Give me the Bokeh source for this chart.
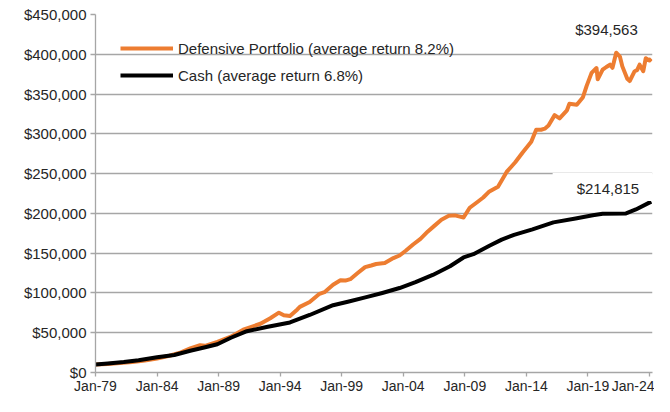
from bokeh.plotting import figure
from bokeh.models import (ColumnDataSource, FixedTicker, NumeralTickFormatter,
                          Legend, LegendItem, Label, Range1d)
from bokeh.embed import file_html
from bokeh.resources import INLINE

# ---- data ----
def_years = [1979.0, 1980.0, 1981.0, 1982.0, 1983.0, 1984.0, 1985.0, 1985.8, 1986.7, 1987.5,
             1987.9, 1988.9, 1990.0, 1991.0, 1992.4, 1993.2, 1993.9, 1994.3, 1994.8, 1995.4,
             1995.6, 1996.4, 1997.2, 1997.6, 1998.3, 1998.9, 1999.3, 1999.7, 2000.3, 2000.9,
             2001.4, 2001.8, 2002.5, 2003.2, 2003.7, 2004.2, 2004.8, 2005.4, 2006.0, 2006.5,
             2007.1, 2007.7, 2008.2, 2008.6, 2008.9, 2009.4, 2010.0, 2010.5, 2011.0, 2011.7,
             2012.4, 2013.1, 2013.7, 2014.4, 2014.8, 2015.2, 2015.5, 2015.8, 2016.3, 2016.7,
             2017.3, 2017.5, 2018.1, 2018.6, 2018.9, 2019.3, 2019.7, 2019.8, 2020.2, 2020.5,
             2020.8, 2021.0, 2021.3, 2021.6, 2021.8, 2022.2, 2022.4, 2022.8, 2023.0, 2023.2,
             2023.5, 2023.7, 2024.0, 2024.15]
def_values = [10000, 10800, 11900, 13300, 15200, 17600, 21000, 24500, 30200, 34300,
              33500, 38400, 45000, 53900, 61300, 68200, 75200, 72000, 71100, 79300,
              82500, 88600, 98900, 101000, 110300, 116000, 115500, 117300, 125000, 132400,
              134500, 136400, 137600, 143800, 147100, 153000, 160900, 168000, 177300, 184000,
              192000, 196900, 197500, 196000, 194900, 207100, 214000, 220000, 227600, 233600,
              252100, 264300, 276600, 290000, 305100, 305100, 306500, 310400, 323500, 319500,
              329600, 337900, 336600, 346000, 360300, 376600, 382700, 368500, 380600, 384000,
              386900, 383000, 402000, 397100, 384800, 369200, 366400, 378700, 380000, 386900,
              378700, 395000, 392200, 394563]

cash_years = [1979.0, 1980.0, 1981.3, 1982.5, 1984.0, 1985.4, 1986.7, 1988.0, 1988.9, 1990.0,
              1991.3, 1992.9, 1994.8, 1996.4, 1998.3, 1999.5, 2001.0, 2002.3, 2003.7, 2005.0,
              2006.4, 2007.8, 2008.9, 2009.7, 2011.0, 2012.0, 2013.0, 2014.5, 2016.2, 2018.0,
              2019.4, 2020.2, 2022.1, 2022.9, 2024.15]
cash_values = [10000, 11300, 13100, 15500, 19200, 22000, 27300, 32000, 35500, 43700,
               51900, 57200, 62900, 72300, 84600, 89000, 94700, 100000, 106200, 113500,
               122600, 133600, 144600, 148700, 159300, 167000, 173000, 180000, 188700, 193600,
               197700, 199500, 200000, 205000, 214815]

series_names = ["Defensive Portfolio (average return 8.2%)", "Cash (average return 6.8%)"]
end_values = [394563, 214815]

x_ticks = [1979, 1984, 1989, 1994, 1999, 2004, 2009, 2014, 2019, 2024]
x_tick_labels = ["Jan-79", "Jan-84", "Jan-89", "Jan-94", "Jan-99",
                 "Jan-04", "Jan-09", "Jan-14", "Jan-19", "Jan-24"]
y_ticks = [0, 50000, 100000, 150000, 200000, 250000, 300000, 350000, 400000, 450000]

ORANGE = "#ED7D31"
GRID = "#a6a6a6"
TEXT = "#262626"
FONT = "Liberation Sans"

p = figure(width=654, height=396, output_backend="svg", toolbar_location=None,
           x_range=Range1d(1979.0, 2024.25), y_range=Range1d(0, 450000),
           min_border_left=95, min_border_right=2, min_border_top=14, min_border_bottom=21)
p.outline_line_color = None
p.background_fill_color = "white"
p.border_fill_color = "white"

src_def = ColumnDataSource(dict(x=def_years, y=def_values))
src_cash = ColumnDataSource(dict(x=cash_years, y=cash_values))
r_def = p.line("x", "y", source=src_def, line_color=ORANGE, line_width=4, line_join="round")
r_cash = p.line("x", "y", source=src_cash, line_color="black", line_width=4, line_join="round")

# axes
p.xgrid.visible = False
p.ygrid.grid_line_color = GRID
p.ygrid.grid_line_width = 1.3
p.ygrid.ticker = FixedTicker(ticks=y_ticks)

p.xaxis.ticker = FixedTicker(ticks=x_ticks)
p.xaxis.major_label_overrides = {t: l for t, l in zip(x_ticks, x_tick_labels)}
p.yaxis.ticker = FixedTicker(ticks=y_ticks)
p.yaxis.formatter = NumeralTickFormatter(format="$0,0")
for ax in (p.xaxis[0], p.yaxis[0]):
    ax.axis_line_color = GRID
    ax.axis_line_width = 1.3
    ax.major_tick_line_color = GRID
    ax.major_tick_line_width = 1.3
    ax.major_tick_in = 0
    ax.minor_tick_line_color = None
    ax.major_label_text_font = FONT
    ax.major_label_text_color = TEXT
p.yaxis.major_label_text_font_size = "15px"
p.xaxis.major_label_text_font_size = "14px"
p.xaxis.major_tick_out = 4
p.xaxis.major_label_standoff = 1
p.yaxis.major_tick_out = 5
p.yaxis.major_label_standoff = 4

legend = Legend(items=[LegendItem(label=series_names[0], renderers=[r_def]),
                       LegendItem(label=series_names[1], renderers=[r_cash])],
                location=(25, 287), orientation="vertical",
                glyph_width=53, glyph_height=20, label_height=20, label_standoff=5,
                spacing=7, padding=0, margin=0,
                border_line_color=None, background_fill_alpha=0,
                label_text_font=FONT, label_text_font_size="15px", label_text_color=TEXT)
p.add_layout(legend)

lab1 = Label(x=2020.51, y=432500, text=f"${end_values[0]:,}", text_align="center",
             text_baseline="middle", text_font=FONT, text_font_size="15px", text_color=TEXT,
             background_fill_color="white",
             padding=dict(top=8, right=25, bottom=6, left=25))
lab2 = Label(x=2020.67, y=233100, text=f"${end_values[1]:,}", text_align="center",
             text_baseline="middle", text_font=FONT, text_font_size="15px", text_color=TEXT,
             background_fill_color="white",
             padding=dict(top=7, right=25, bottom=4, left=24))
p.add_layout(lab1)
p.add_layout(lab2)

open("out.html", "w").write(file_html(p, INLINE))
